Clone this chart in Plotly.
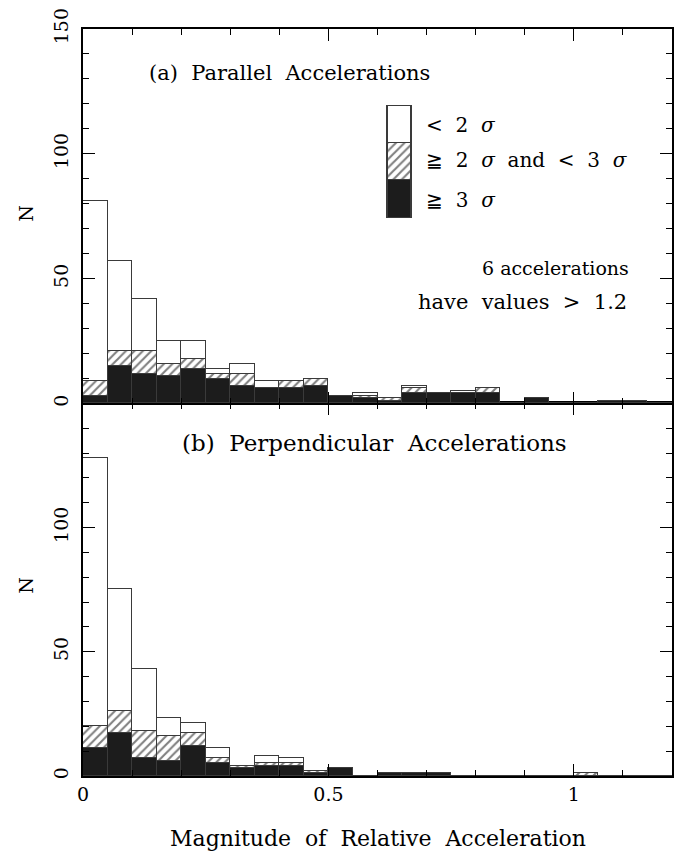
import plotly.graph_objects as go

# ---------------- data ----------------
bin_width = 0.05
bin_centers = [0.025 + 0.05 * k for k in range(24)]

# (a) Parallel accelerations: counts per significance class
par_ge3 = [3, 15, 12, 11, 14, 10, 7, 6, 6, 7, 3, 2, 1, 4, 4, 4, 4, 0, 2, 0, 0, 1, 1, 0]
par_2to3 = [6, 6, 9, 5, 4, 2, 5, 0, 3, 3, 0, 1, 1, 2, 0, 0, 2, 0, 0, 0, 0, 0, 0, 0]
par_lt2 = [72, 36, 21, 9, 7, 2, 4, 3, 0, 0, 0, 1, 0, 1, 0, 1, 0, 0, 0, 0, 0, 0, 0, 0]

# (b) Perpendicular accelerations
perp_ge3 = [11, 17, 7, 6, 12, 5, 3, 4, 4, 1, 3, 0, 1, 1, 1, 0, 0, 0, 0, 0, 0, 0, 0, 0]
perp_2to3 = [9, 9, 11, 10, 5, 2, 1, 1, 1, 1, 0, 0, 0, 0, 0, 0, 0, 0, 0, 0, 1, 0, 0, 0]
perp_lt2 = [108, 49, 25, 7, 4, 4, 0, 3, 2, 0, 0, 0, 0, 0, 0, 0, 0, 0, 0, 0, 0, 0, 0, 0]

S = "\u00a0\u00a0"  # wide word spacing as in the original typesetting
legend_labels = [f"<{S}2{S}<i>σ</i>", f"≧{S}2{S}<i>σ</i>{S}and{S}<{S}3{S}<i>σ</i>", f"≧{S}3{S}<i>σ</i>"]
x_tickvals = [0, 0.5, 1]
x_ticktext = ["0", "0.5", "1"]
y_tickvals_top = [0, 50, 100, 150]
y_tickvals_bot = [0, 50, 100]

# ---------------- style ----------------
FONT = "DejaVu Serif"
BLACK = "#1c1c1c"
EDGE = "#3a3a3a"
hatch = dict(shape="/", fgcolor="#000000", bgcolor="white", size=6, solidity=0.35)

fig = go.Figure()


def add_stack(xa, ya, ge3, mid, lt2):
    fig.add_trace(go.Bar(x=bin_centers, y=ge3, width=bin_width, xaxis=xa, yaxis=ya,
                         marker=dict(color=BLACK, line=dict(color=EDGE, width=1)),
                         showlegend=False, hoverinfo="skip"))
    fig.add_trace(go.Bar(x=bin_centers, y=mid, width=bin_width, xaxis=xa, yaxis=ya,
                         marker=dict(color="white", pattern=hatch, line=dict(color=EDGE, width=1)),
                         showlegend=False, hoverinfo="skip"))
    fig.add_trace(go.Bar(x=bin_centers, y=lt2, width=bin_width, xaxis=xa, yaxis=ya,
                         marker=dict(color="white", line=dict(color=EDGE, width=1)),
                         showlegend=False, hoverinfo="skip"))


add_stack("x2", "y2", par_ge3, par_2to3, par_lt2)
add_stack("x", "y", perp_ge3, perp_2to3, perp_lt2)

# legend swatch (stacked boxes on a hidden axis)
for col, pat in [(BLACK, None), ("white", hatch), ("white", None)]:
    mk = dict(color=col, line=dict(color=EDGE, width=1.2))
    if pat:
        mk["pattern"] = pat
    fig.add_trace(go.Bar(x=[0], y=[1], width=1, xaxis="x3", yaxis="y3", marker=mk,
                         showlegend=False, hoverinfo="skip"))

split = 0.4987
xcommon = dict(range=[0, 1.2], showline=True, linecolor="black", linewidth=1.5, mirror="ticks",
               ticks="inside", ticklen=12, tickwidth=1, tickcolor="black",
               tickvals=x_tickvals, ticktext=x_ticktext, automargin=False,
               minor=dict(dtick=0.1, tick0=0, ticks="inside", ticklen=6, tickcolor="black", tickwidth=1),
               showgrid=False, zeroline=False,
               tickfont=dict(family=FONT, size=19, color="black"))
ycommon = dict(range=[0, 150], showline=True, linecolor="black", linewidth=1.5, mirror="ticks",
               ticks="inside", ticklen=12, tickwidth=1, tickcolor="black", automargin=False,
               minor=dict(dtick=10, tick0=0, ticks="inside", ticklen=6, tickcolor="black", tickwidth=1),
               showgrid=False, zeroline=False, tickangle=-90, ticklabelstandoff=6,
               tickfont=dict(family=FONT, size=19, color="black"))

fig.update_layout(
    width=691, height=857,
    margin=dict(l=83, r=19, t=29, b=81, autoexpand=False),
    paper_bgcolor="white", plot_bgcolor="white",
    barmode="stack", bargap=0,
    showlegend=False,
    font=dict(family=FONT, color="black"),
    xaxis=dict(**xcommon, anchor="y", domain=[0, 1]),
    yaxis=dict(**ycommon, anchor="x", domain=[0, split], tickvals=y_tickvals_bot),
    xaxis2=dict(**xcommon, anchor="y2", domain=[0, 1], matches="x", showticklabels=False),
    yaxis2=dict(**ycommon, anchor="x2", domain=[split, 1], tickvals=y_tickvals_top),
    xaxis3=dict(domain=[0.5138, 0.5626], range=[-0.6, 0.6], visible=False, anchor="y3", fixedrange=True),
    yaxis3=dict(domain=[0.7420, 0.9019], range=[-0.1, 3.1], visible=False, anchor="x3", fixedrange=True),
)

ann = []
def txt(text, x, y, size, xanchor="center", angle=0):
    ann.append(dict(text=text, x=x, y=y, xref="paper", yref="paper", showarrow=False,
                    xanchor=xanchor, yanchor="middle", textangle=angle,
                    font=dict(family=FONT, size=size, color="black")))

txt(f"(a){S}Parallel{S}Accelerations", 0.1087, 0.941, 21, "left")
txt(f"(b){S}Perpendicular{S}Accelerations", 0.1647, 0.4458, 23, "left")
txt(legend_labels[0], 0.579, 0.8715, 20, "left")
txt(legend_labels[1], 0.579, 0.8246, 20, "left")
txt(legend_labels[2], 0.579, 0.7711, 20, "left")
txt("6 accelerations", 0.6740, 0.680, 19, "left")
txt(f"have{S}values{S}>{S}1.2", 0.5654, 0.6345, 21, "left")
txt("N", -0.098, 0.753, 19, angle=-90)
txt("N", -0.098, 0.255, 19, angle=-90)
txt(f"Magnitude{S}of{S}Relative{S}Acceleration", 0.5008, -0.083, 22)
fig.update_layout(annotations=ann)

fig.write_html("out.html", config={"displayModeBar": False},
               post_script="document.body.style.margin='0';document.body.style.padding='0';document.body.style.overflow='hidden';")
